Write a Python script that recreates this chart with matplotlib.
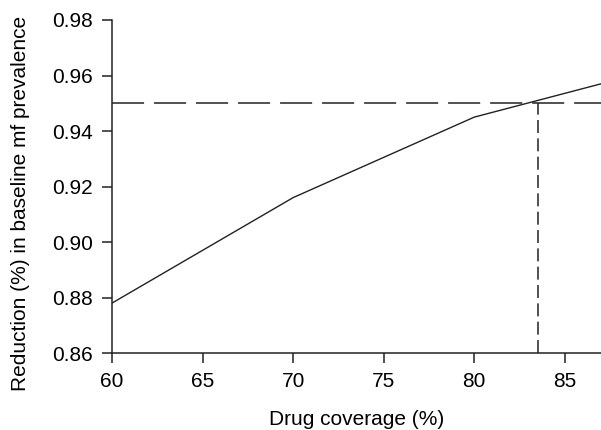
import matplotlib
matplotlib.use("Agg")
import matplotlib.pyplot as plt

plt.rcParams['font.family'] = ['Liberation Sans', 'DejaVu Sans']

# data
coverage = [60, 70, 80, 87]
reduction = [0.878, 0.916, 0.945, 0.957]
target = 0.95
target_cov = 83.5
yticks = [0.86, 0.88, 0.90, 0.92, 0.94, 0.96, 0.98]
xticks = [60, 65, 70, 75, 80, 85]

fig = plt.figure(figsize=(6.01, 4.30), dpi=100)
ax = fig.add_axes([0.1864, 0.179, 0.8136, 0.7745])

ax.plot(coverage, reduction, color='#222222', lw=1.0)
ax.plot([60, 87], [target, target], color='#222222', lw=1.1, dashes=(21, 6.5))
ax.plot([target_cov, target_cov], [0.86, target], color='#222222', lw=1.1, dashes=(8.5, 3.5))

ax.set_xlim(60, 87)
ax.set_ylim(0.86, 0.98)
ax.set_xticks(xticks)
ax.set_yticks(yticks)
ax.set_yticklabels(['%.2f' % v for v in yticks])

for s in ['top', 'right']:
    ax.spines[s].set_visible(False)
for s in ['left', 'bottom']:
    ax.spines[s].set_color('#222222')
    ax.spines[s].set_linewidth(1.1)
ax.tick_params(direction='out', length=7, width=1.1, color='#222222', labelsize=15, pad=7)

ax.set_xlabel('Drug coverage (%)', fontsize=15, labelpad=13)
ax.set_ylabel('Reduction (%) in baseline mf prevalence', fontsize=15)
ax.yaxis.set_label_coords(-0.168, 0.45)

fig.savefig('out.png', dpi=100)
